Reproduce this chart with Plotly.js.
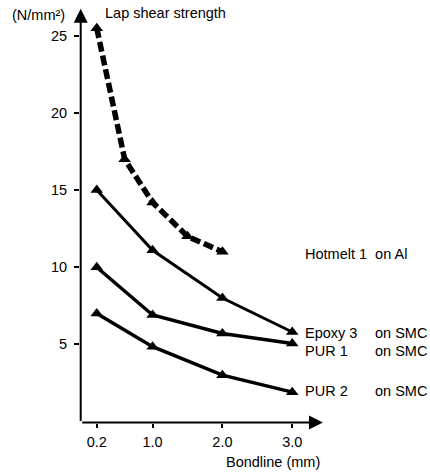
<!DOCTYPE html>
<html>
<head>
<meta charset="utf-8">
<script src="https://cdn.plot.ly/plotly-3.0.1.min.js"></script>
<style>html,body{margin:0;padding:0;background:#fff;}#chart{width:430px;height:472px;}</style>
</head>
<body>
<div id="chart"></div>
<script>
// Data (bondline thickness in mm, lap shear strength in N/mm²)
var hotmeltX = [0.2, 0.6, 1.0, 1.5, 2.0];
var hotmeltY = [25.5, 17.0, 14.2, 12.0, 11.0];
var bondlineX = [0.2, 1.0, 2.0, 3.0];
var epoxy3Y = [15.0, 11.1, 8.0, 5.8];
var pur1Y = [10.0, 6.9, 5.7, 5.05];
var pur2Y = [7.0, 4.85, 3.0, 1.9];
var xTickVals = [0.2, 1.0, 2.0, 3.0];
var xTickText = ["0.2", "1.0", "2.0", "3.0"];
var yTickVals = [5, 10, 15, 20, 25];
var seriesNames = ["Hotmelt 1 on Al", "Epoxy 3 on SMC", "PUR 1 on SMC", "PUR 2 on SMC"];

var font = "Liberation Sans, Arial, Helvetica, sans-serif";
var mk = {symbol: "triangle-up", size: 11, color: "#000"};

var traces = [
  {x: hotmeltX, y: hotmeltY, name: seriesNames[0], mode: "lines+markers",
   line: {color: "#000", width: 5.5, dash: "10px,4px"}, marker: mk},
  {x: bondlineX, y: epoxy3Y, name: seriesNames[1], mode: "lines+markers",
   line: {color: "#000", width: 3}, marker: mk},
  {x: bondlineX, y: pur1Y, name: seriesNames[2], mode: "lines+markers",
   line: {color: "#000", width: 3.5}, marker: mk},
  {x: bondlineX, y: pur2Y, name: seriesNames[3], mode: "lines+markers",
   line: {color: "#000", width: 3.5}, marker: mk}
];

function lab(text, x, y, paper) {
  return {text: text, x: x, y: y, xref: paper ? "paper" : "x", yref: paper ? "paper" : "y",
          showarrow: false, xanchor: "left", yanchor: "middle",
          font: {family: font, size: 14.5, color: "#000"}};
}

var layout = {
  width: 430, height: 472,
  margin: {l: 80, r: 10, t: 5, b: 49},
  paper_bgcolor: "#fff", plot_bgcolor: "#fff",
  showlegend: false,
  font: {family: font, size: 14, color: "#000"},
  xaxis: {range: [-0.04, 4.83], showgrid: false, zeroline: false, showline: false,
          tickmode: "array", tickvals: xTickVals, ticktext: xTickText,
          ticks: "outside", ticklen: 4, tickwidth: 2, tickcolor: "#000",
          ticklabelstandoff: 2, tickfont: {family: font, size: 14.5, color: "#000"}},
  yaxis: {range: [-0.1, 27], showgrid: false, zeroline: false, showline: false,
          tickmode: "array", tickvals: yTickVals,
          ticks: "outside", ticklen: 5, tickwidth: 2, tickcolor: "#000",
          ticklabelstandoff: 4, tickfont: {family: font, size: 14.5, color: "#000"}},
  annotations: [
    // axis arrows
    {x: -0.03, y: 26.75, ax: -0.03, ay: -0.07, xref: "x", yref: "y", axref: "x", ayref: "y",
     text: "", showarrow: true, arrowhead: 2, arrowsize: 1.4, arrowwidth: 2, arrowcolor: "#000",
     standoff: 0, startstandoff: 0},
    {x: 3.44, y: -0.07, ax: -0.03, ay: -0.07, xref: "x", yref: "y", axref: "x", ayref: "y",
     text: "", showarrow: true, arrowhead: 2, arrowsize: 1.4, arrowwidth: 2, arrowcolor: "#000",
     standoff: 0, startstandoff: 0},
    lab("Lap shear strength", 0.29, 26.45),
    lab("(N/mm²)", -0.206, 0.976, true),
    lab("Bondline (mm)", 0.4235, -0.0933, true),
    lab("Hotmelt 1  on Al", 3.15, 10.87),
    lab("Epoxy 3", 3.15, 5.76),
    lab("on SMC", 4.16, 5.76),
    lab("PUR 1", 3.15, 4.55),
    lab("on SMC", 4.16, 4.55),
    lab("PUR 2", 3.15, 2.0),
    lab("on SMC", 4.16, 2.0)
  ]
};

Plotly.newPlot("chart", traces, layout, {displayModeBar: false, staticPlot: true});
</script>
</body>
</html>
